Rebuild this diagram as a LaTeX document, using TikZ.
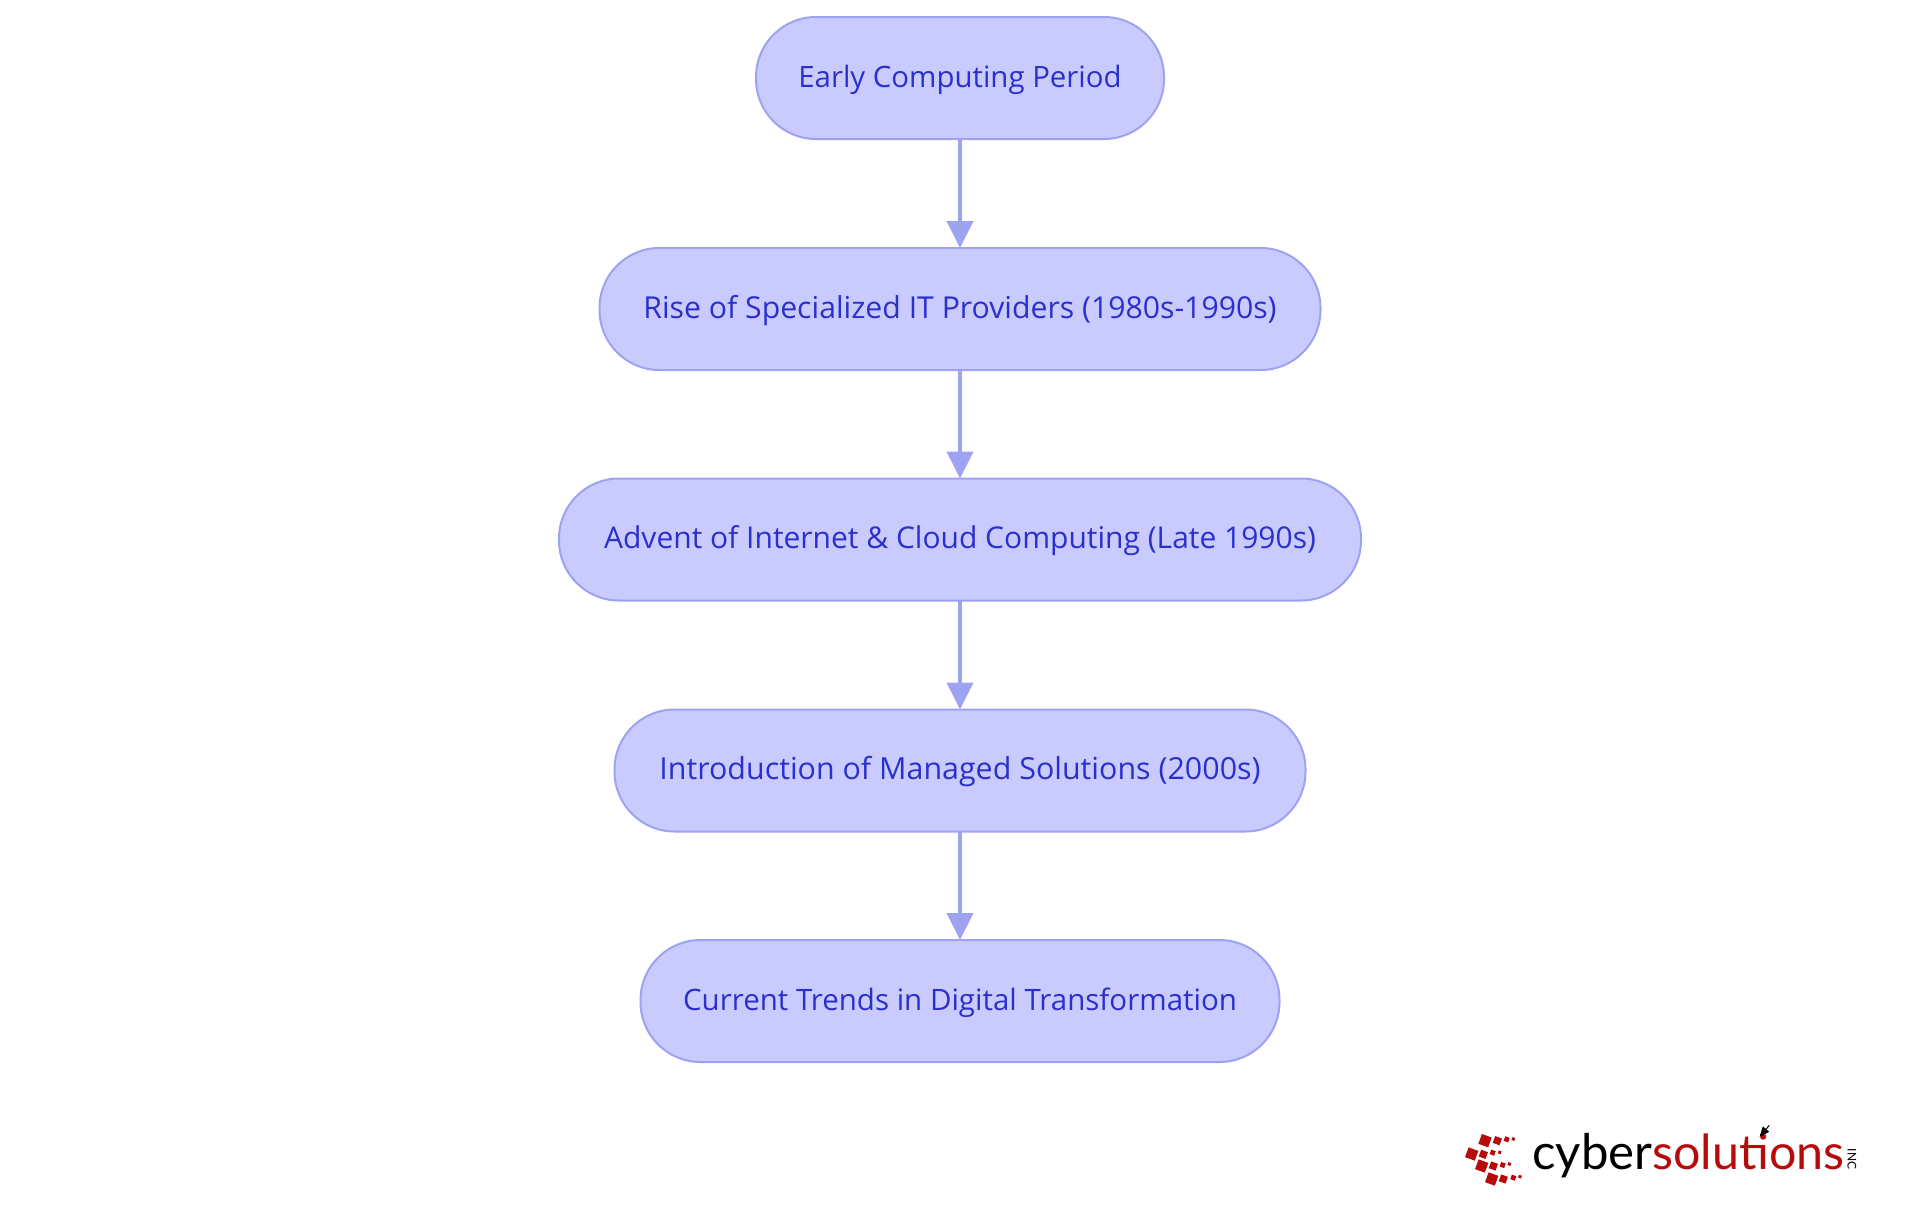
\documentclass[tikz,border=0pt]{standalone}
\usepackage{fontspec}
\setmainfont{Open Sans}
\newfontfamily\logofont{Lato}
\usetikzlibrary{arrows.meta,shapes.misc}
\definecolor{nodefill}{HTML}{C9CBFF}
\definecolor{nodeline}{HTML}{9EA2F2}
\definecolor{nodetext}{HTML}{2B30CC}
\definecolor{logored}{HTML}{B80A0A}
\tikzset{
  x=0.5pt,y=-0.5pt,
  stage/.style={draw=nodeline,fill=nodefill,line width=1pt,rounded corners=30pt,minimum height=61pt,inner sep=0pt,outer sep=0pt,text=nodetext,font=\fontsize{#1}{18pt}\selectfont,text height=12.2pt,text depth=3pt,align=center},
  stage/.default=15pt,
  flow/.style={draw=nodeline,line width=2pt,-{Triangle[width=13pt,length=13.5pt]}},
  logosq/.style={fill=logored,rotate=-20,minimum size=#1,inner sep=0pt,outer sep=0pt,draw=none},
  logotxt/.style={inner sep=0pt,anchor=base west}
}
\begin{document}
\begin{tikzpicture}
\useasboundingbox (0,0) rectangle (1920,1215);
\fill[white] (0,0) rectangle (1920,1215);
\node[stage=14.7pt,minimum width=204pt] (a) at (960,78) {Early Computing Period};
\node[stage=15.1pt,minimum width=360.5pt] (b) at (960,309) {Rise of Specialized IT Providers (1980s-1990s)};
\node[stage=15pt,minimum width=401pt] (c) at (960,539.5) {Advent of Internet \& Cloud Computing (Late 1990s)};
\node[stage=15.2pt,minimum width=345.5pt] (d) at (960,770.5) {Introduction of Managed Solutions (2000s)};
\node[stage=14.75pt,minimum width=319.5pt] (e) at (960,1001) {Current Trends in Digital Transformation};
\draw[flow] (a) -- (b);
\draw[flow] (b) -- (c);
\draw[flow] (c) -- (d);
\draw[flow] (d) -- (e);
% logo squares
\foreach \i/\cx/\cy/\s in {
 1/135/122/5.2,2/172/122/3.6,3/200/118/2.4,4/220/117/1.5,
 5/95/162/5.2,6/130/163/3.6,7/158/158/2.4,8/179/157/1.5,
 9/125/198/5.2,10/160/198/3.6,11/188/195/2.4,12/208/192/1.5,
 13/155/237/5.2,14/190/237/3.6,15/220/233/2.4,16/240/230/1.5}
  \node[logosq=\s pt] (sq\i) at ({1440+\cx/3},{1100+\cy/3}) {};
\node[logotxt] (cy) at (1532,1169) {\logofont\resizebox{60pt}{!}{\color{black}cyber}};
\node[logotxt] (so) at (1652,1169) {\logofont\resizebox{96pt}{!}{\color{logored}solutions}};
\node[inner sep=0pt,rotate=-90,font=\logofont\fontsize{6pt}{7pt}\selectfont] (inc) at (1852,1159) {INC};
\coordinate (artail) at (1769.3,1125.3);
\coordinate (arhead) at (1759.5,1136.7);
\draw[line width=0.5pt,-{Triangle[width=4pt,length=5pt]}] (artail) -- (arhead);
\end{tikzpicture}
\end{document}
